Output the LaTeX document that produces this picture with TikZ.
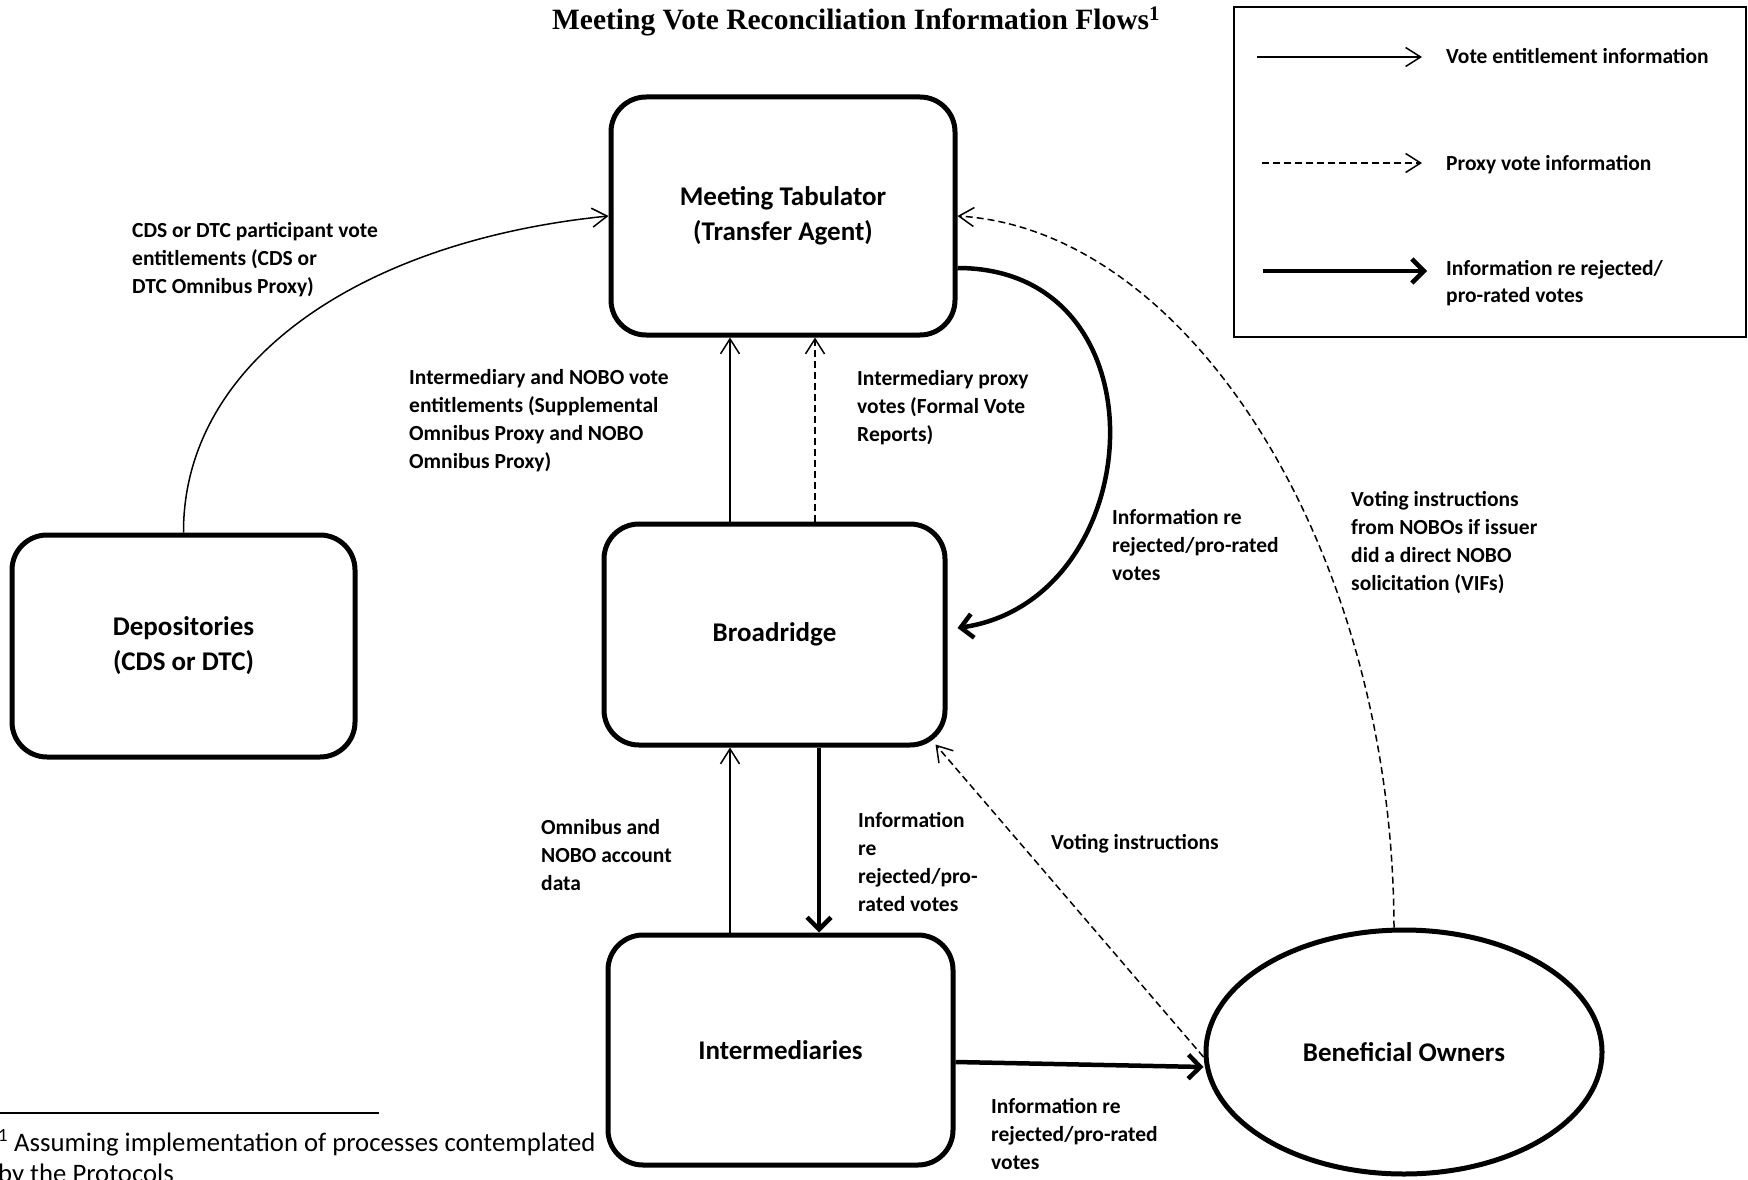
\documentclass[tikz,border=0pt]{standalone}
\usepackage{fontspec}
\setmainfont{Carlito}
\newfontfamily\titlefont{Liberation Serif}
\usetikzlibrary{arrows.meta,shapes.geometric,calc}
\tikzset{
  entity/.style={draw,line width=5pt,rounded corners=35pt,align=center,inner sep=0pt,
    font=\fontsize{27}{35}\selectfont\bfseries},
  lbl/.style={align=left,anchor=base west,inner sep=0pt,font=\fontsize{21.5}{28}\selectfont\bfseries},
  thinarrow/.style={line width=1.5pt,-{Straight Barb[length=15pt,width=19pt]}},
  dasharrow/.style={thinarrow,dash pattern=on 7pt off 4pt},
  thickarrow/.style={line width=4.5pt,-{Straight Barb[length=12pt,width=24pt]}},
}
\begin{document}
\begin{tikzpicture}[x=1pt,y=-1pt]
\useasboundingbox (0,0) rectangle (1748,1180);
% title
\node[font=\titlefont\bfseries\fontsize{29.5}{31}\selectfont,inner sep=0pt] (title) at (856,21)
  {Meeting Vote Reconciliation Information Flows\textsuperscript{1}};
% legend
\node[draw,line width=2pt,minimum width=512pt,minimum height=330pt,inner sep=0pt] (legend) at (1490,172) {};
\coordinate (l1s) at (1257,57); \coordinate (l1e) at (1422,57);
\coordinate (l2s) at (1262,163); \coordinate (l2e) at (1422,163);
\coordinate (l3s) at (1263,271); \coordinate (l3e) at (1427,271);
\draw[thinarrow] (l1s) -- (l1e);
\draw[dasharrow] (l2s) -- (l2e);
\draw[thickarrow] (l3s) -- (l3e);
\node[lbl] (lt1) at (1446,64) {Vote entitlement information};
\node[lbl] (lt2) at (1446,170) {Proxy vote information};
\node[lbl,font=\fontsize{21.5}{27}\selectfont\bfseries] (lt3) at (1446,302) {Information re rejected/\\pro-rated votes};
% entities
\node[entity,minimum width=344pt,minimum height=238pt] (mt) at (783,216) {Meeting Tabulator\\(Transfer Agent)};
\node[entity,minimum width=341pt,minimum height=221pt] (br) at (774.5,634.5) {Broadridge};
\node[entity,minimum width=343pt,minimum height=222pt] (dp) at (183.5,646) {Depositories\\(CDS or DTC)};
\node[entity,minimum width=345pt,minimum height=230pt] (im) at (780.5,1050) {Intermediaries};
\node[draw,ellipse,line width=5pt,minimum width=396pt,minimum height=244pt,inner sep=0pt,
  font=\fontsize{27}{35}\selectfont\bfseries] (bo) at (1404,1052) {Beneficial Owners};
% connectors
\draw[thinarrow] (dp.north) .. controls (183,362) and (360,241) .. (mt.west);
\draw[thinarrow] ([xshift=-44.5pt]br.north) -- ([xshift=-53pt]mt.south);
\draw[dasharrow] ([xshift=40.5pt]br.north) -- ([xshift=32pt]mt.south);
\draw[thickarrow] ([yshift=-52pt]mt.east) .. controls (1170,268) and (1150,600) .. ([xshift=10pt,yshift=6.5pt]br.east);
\draw[dasharrow] ([xshift=-10pt]bo.north) .. controls (1393,550) and (1190,230) .. (mt.east);
\draw[thinarrow] ([xshift=-50.5pt]im.north) -- ([xshift=-44.5pt]br.south);
\draw[thickarrow] ([xshift=44.5pt]br.south) -- ([xshift=38.5pt]im.north);
\draw[dasharrow] ([yshift=-5pt]bo.west) -- ([xshift=-12pt,yshift=3pt]br.south east);
\draw[thickarrow] ([yshift=-12pt]im.east) -- ([yshift=-15pt]bo.west);
% labels (anchored at the baseline of the last line)
\node[lbl] (cds) at (132,293) {CDS or DTC participant vote\\entitlements (CDS or\\DTC Omnibus Proxy)};
\node[lbl] (ient) at (409,468) {Intermediary and NOBO vote\\entitlements (Supplemental\\Omnibus Proxy and NOBO\\Omnibus Proxy)};
\node[lbl] (iprox) at (857,441) {Intermediary proxy\\votes (Formal Vote\\Reports)};
\node[lbl] (irej1) at (1112,580) {Information re\\rejected/pro-rated\\votes};
\node[lbl] (vinobo) at (1351,590) {Voting instructions\\from NOBOs if issuer\\did a direct NOBO\\solicitation (VIFs)};
\node[lbl] (omni) at (541,890) {Omnibus and\\NOBO account\\data};
\node[lbl] (irej2) at (858,911) {Information\\re\\rejected/pro-\\rated votes};
\node[lbl] (vi) at (1051,849) {Voting instructions};
\node[lbl] (irej3) at (991,1169) {Information re\\rejected/pro-rated\\votes};
% footnote
\coordinate (fn1) at (0,1113); \coordinate (fn2) at (379,1113);
\draw[line width=2pt] (fn1) -- (fn2);
\node[align=left,anchor=base west,inner sep=0pt,font=\fontsize{26.7}{31}\selectfont] (fn) at (-2,1182)
  {\textsuperscript{1} Assuming implementation of processes contemplated\\by the Protocols};
\end{tikzpicture}
\end{document}
